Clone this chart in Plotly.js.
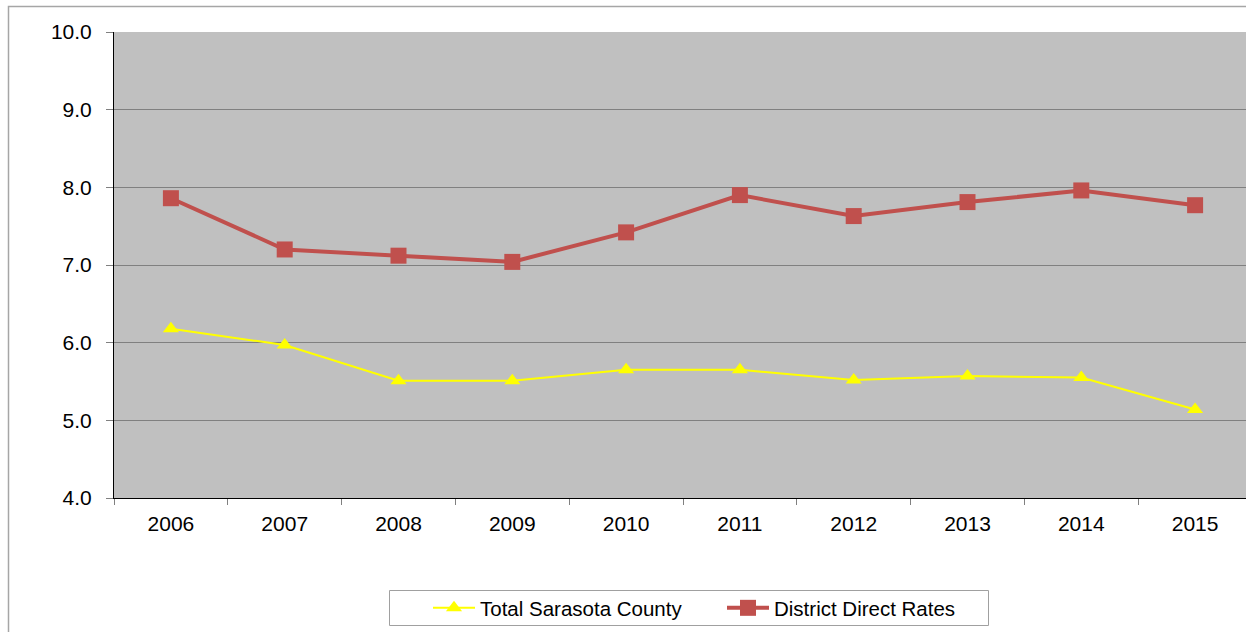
<!DOCTYPE html>
<html>
<head>
<meta charset="utf-8">
<script src="https://cdn.plot.ly/plotly-3.0.1.min.js"></script>
<style>
  html, body { margin: 0; padding: 0; background: #ffffff; overflow: hidden; }
  #chart { width: 1252px; height: 632px; }
</style>
</head>
<body>
<div id="chart"></div>
<script>
const years = ['2006', '2007', '2008', '2009', '2010', '2011', '2012', '2013', '2014', '2015'];
const totalSarasotaCounty = [6.18, 5.97, 5.51, 5.51, 5.65, 5.65, 5.52, 5.57, 5.55, 5.14];
const districtDirectRates = [7.86, 7.20, 7.12, 7.04, 7.42, 7.90, 7.63, 7.81, 7.96, 7.77];
const yTickValues = [4, 5, 6, 7, 8, 9, 10];
const seriesNames = ['Total Sarasota County', 'District Direct Rates'];

const FONT = '"Liberation Sans", Arial, Helvetica, sans-serif';
const plotL = 114, plotR = 1252, plotT = 32, plotB = 498;
const pw = plotR - plotL, ph = plotB - plotT;
const px = v => (v - plotL) / pw;
const py = v => (plotB - v) / ph;

const traces = [
  {
    type: 'scatter', mode: 'lines+markers', name: seriesNames[0],
    x: years, y: totalSarasotaCounty,
    line: { color: '#FFFF00', width: 2 },
    marker: { symbol: 'triangle-up', size: 14, color: '#FFFF00' }
  },
  {
    type: 'scatter', mode: 'lines+markers', name: seriesNames[1],
    x: years, y: districtDirectRates,
    line: { color: '#C0504D', width: 4 },
    marker: { symbol: 'square', size: 16, color: '#C0504D' }
  }
];

const layout = {
  width: 1252, height: 632,
  margin: { l: plotL, r: 1252 - plotR, t: plotT, b: 632 - plotB },
  paper_bgcolor: '#ffffff',
  plot_bgcolor: '#C0C0C0',
  font: { family: FONT, color: '#000000', size: 21 },
  showlegend: true,
  legend: {
    orientation: 'h',
    x: px(428), xanchor: 'left',
    y: py(608), yanchor: 'middle',
    font: { family: FONT, size: 20.5, color: '#000000' },
    bgcolor: 'rgba(0,0,0,0)',
    borderwidth: 0,
    itemwidth: 42,
    entrywidth: 237,
    entrywidthmode: 'pixels',
    traceorder: 'normal'
  },
  xaxis: {
    type: 'category',
    range: [-0.5, years.length - 0.5],
    showgrid: false,
    zeroline: false,
    showline: true, linecolor: '#000000', linewidth: 1,
    ticks: 'outside', tickson: 'boundaries', ticklen: 6, tickcolor: '#808080', tickwidth: 1,
    ticklabelstandoff: 7,
    tickfont: { family: FONT, size: 21, color: '#000000' },
    fixedrange: true
  },
  yaxis: {
    range: [4, 10],
    tickmode: 'array', tickvals: yTickValues,
    ticktext: yTickValues.map(v => v.toFixed(1)),
    showgrid: true, gridcolor: '#808080', gridwidth: 1,
    zeroline: false,
    showline: true, linecolor: '#000000', linewidth: 1,
    ticks: 'outside', ticklen: 7, tickcolor: '#808080', tickwidth: 1,
    ticklabelstandoff: 10,
    tickfont: { family: FONT, size: 21, color: '#000000' },
    fixedrange: true
  },
  shapes: [
    {
      type: 'rect', xref: 'paper', yref: 'paper', layer: 'below',
      x0: px(8.5), x1: px(1300), y0: py(700), y1: py(6.5),
      line: { color: '#A6A6A6', width: 1.5 }, fillcolor: 'rgba(0,0,0,0)'
    },
    {
      type: 'rect', xref: 'paper', yref: 'paper', layer: 'above',
      x0: px(389.5), x1: px(988.5), y0: py(625.5), y1: py(590.5),
      line: { color: '#A0A0A0', width: 1 }, fillcolor: 'rgba(0,0,0,0)'
    }
  ]
};

Plotly.newPlot('chart', traces, layout, { displayModeBar: false, staticPlot: true });
</script>
</body>
</html>
